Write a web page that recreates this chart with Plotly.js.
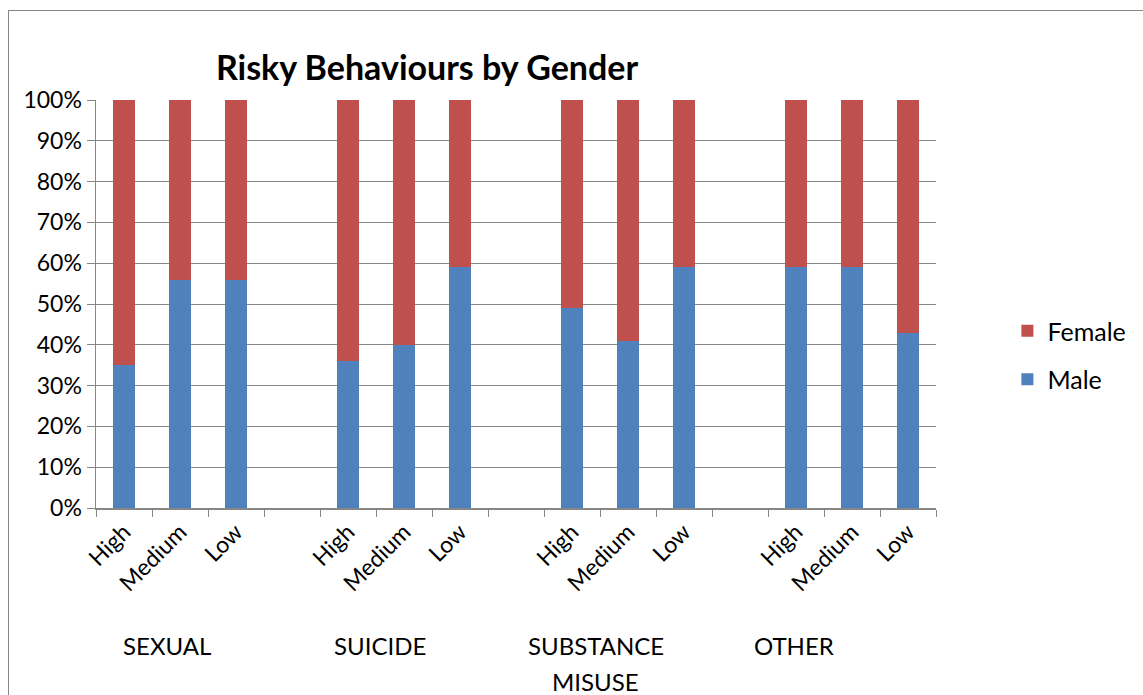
<!DOCTYPE html>
<html>
<head>
<meta charset="utf-8">
<script src="https://cdn.plot.ly/plotly-3.0.1.min.js"></script>
<style>
  html, body { margin: 0; padding: 0; background: #fff; }
  #wrap { position: relative; width: 1143px; height: 695px; overflow: hidden; }
  #chart { position: absolute; left: 0; top: 0; width: 1143px; height: 695px; }
  #frame { position: absolute; left: 8px; top: 10px; width: 1140px; height: 700px; border: 1px solid #868686; pointer-events: none; }
</style>
</head>
<body>
<div id="wrap"><div id="chart"></div><div id="frame"></div></div>
<script>
// ---- data ----
const groups = ["SEXUAL", "SUICIDE", "SUBSTANCE MISUSE", "OTHER"];
const levels = ["High", "Medium", "Low"];
const maleSexual = [35, 56, 56];
const maleSuicide = [36, 40, 59];
const maleSubstance = [49, 41, 59];
const maleOther = [59, 59, 43];
const femaleSexual = [65, 44, 44];
const femaleSuicide = [64, 60, 41];
const femaleSubstance = [51, 59, 41];
const femaleOther = [41, 41, 57];

const maleByGroup = [maleSexual, maleSuicide, maleSubstance, maleOther];
const femaleByGroup = [femaleSexual, femaleSuicide, femaleSubstance, femaleOther];

// build category keys with blank slots between groups
const cats = [], catText = [], maleY = [], femaleY = [];
groups.forEach((g, gi) => {
  levels.forEach((lv, li) => {
    cats.push(g + "|" + lv);
    catText.push(lv);
    maleY.push(maleByGroup[gi][li]);
    femaleY.push(femaleByGroup[gi][li]);
  });
  if (gi < groups.length - 1) {
    cats.push("gap" + gi);
    catText.push("");
    maleY.push(null);
    femaleY.push(null);
  }
});

const FONT = "Lato, 'Open Sans', sans-serif";
const GRID = "#868686";

const traces = [
  { type: "bar", name: "Male", x: cats, y: maleY, marker: { color: "#4F81BD", line: { width: 0 } }, legendgroup: "m", legendrank: 2 },
  { type: "bar", name: "Female", x: cats, y: femaleY, marker: { color: "#C0504D", line: { width: 0 } }, legendgroup: "f", legendrank: 1 }
];

const grpFont = { size: 24, family: FONT, color: "#000" };

const layout = {
  width: 1143, height: 695,
  margin: { l: 96, r: 203, t: 100, b: 187 },
  paper_bgcolor: "rgba(0,0,0,0)", plot_bgcolor: "#fff",
  barmode: "stack", bargap: 0.6,
  font: { family: FONT, color: "#000", size: 23 },
  title: {
    text: "<b>Risky Behaviours by Gender</b>",
    font: { family: FONT, size: 34, color: "#000" },
    xref: "container", yref: "container", x: 0.3736, xanchor: "center", y: 0.902, yanchor: "middle"
  },
  xaxis: {
    type: "category", categoryorder: "array", categoryarray: cats,
    tickmode: "array", tickvals: cats, ticktext: catText,
    tickson: "boundaries", ticks: "outside", ticklen: 7, tickcolor: GRID, tickwidth: 1,
    tickangle: -45, tickfont: { size: 23, family: FONT },
    showline: true, linecolor: GRID, linewidth: 1.5, showgrid: false,
    range: [-0.5, cats.length - 0.5], fixedrange: true
  },
  yaxis: {
    range: [0, 100], dtick: 10, ticksuffix: "%",
    ticks: "outside", ticklen: 8, tickcolor: GRID, tickwidth: 1,
    showgrid: true, gridcolor: GRID, gridwidth: 1,
    showline: true, linecolor: GRID, linewidth: 1.5, zeroline: false,
    tickfont: { size: 23, family: FONT }, fixedrange: true
  },
  legend: {
    traceorder: "grouped", tracegroupgap: 13,
    x: 1.085, xanchor: "left", y: 0.375, yanchor: "middle",
    font: { size: 25, family: FONT }, bgcolor: "rgba(0,0,0,0)"
  },
  annotations: [
    { text: "SEXUAL", xref: "paper", yref: "paper", x: 0.0841, y: -0.336, showarrow: false, font: grpFont, xanchor: "center", yanchor: "middle" },
    { text: "SUICIDE", xref: "paper", yref: "paper", x: 0.3383, y: -0.336, showarrow: false, font: grpFont, xanchor: "center", yanchor: "middle" },
    { text: "SUBSTANCE", xref: "paper", yref: "paper", x: 0.5948, y: -0.336, showarrow: false, font: grpFont, xanchor: "center", yanchor: "middle" },
    { text: "MISUSE", xref: "paper", yref: "paper", x: 0.5948, y: -0.426, showarrow: false, font: grpFont, xanchor: "center", yanchor: "middle" },
    { text: "OTHER", xref: "paper", yref: "paper", x: 0.8306, y: -0.336, showarrow: false, font: grpFont, xanchor: "center", yanchor: "middle" }
  ],
  showlegend: true
};

Plotly.newPlot("chart", traces, layout, { displayModeBar: false, staticPlot: true });
</script>
</body>
</html>
